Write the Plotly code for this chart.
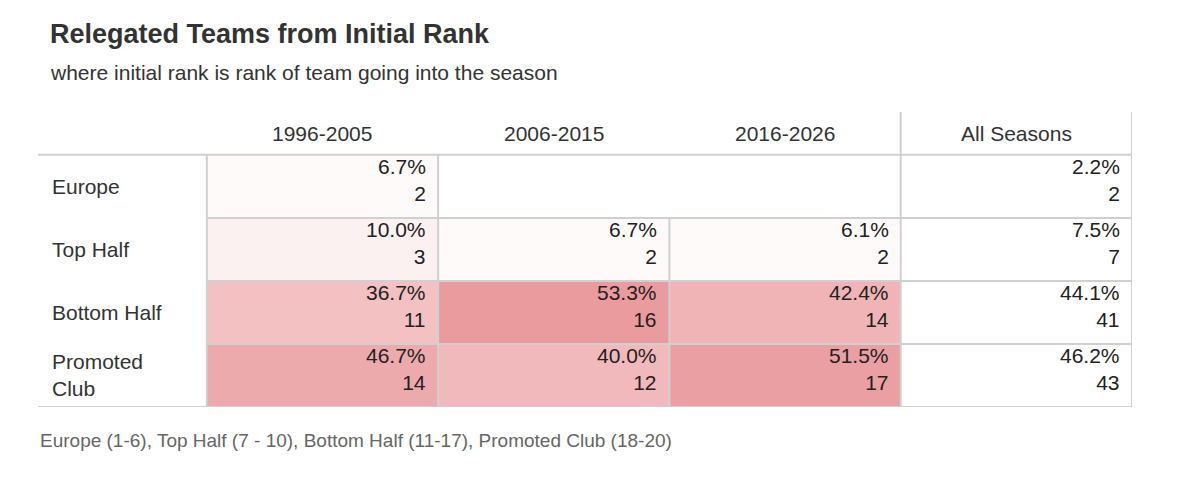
import plotly.graph_objects as go

columns = ["1996-2005", "2006-2015", "2016-2026", "All Seasons"]
rows = ["Europe", "Top Half", "Bottom Half", "Promoted<br>Club"]
pct = [[6.7, None, None, 2.2],
       [10.0, 6.7, 6.1, 7.5],
       [36.7, 53.3, 42.4, 44.1],
       [46.7, 40.0, 51.5, 46.2]]
counts = [[2, None, None, 2],
          [3, 2, 2, 7],
          [11, 16, 14, 41],
          [14, 12, 17, 43]]

FONT = "Liberation Sans, Arial, sans-serif"
LINE = "#d0d0d0"
nr, nc = len(rows), len(columns)
label_w = 0.73
head_h = 0.68

z = [[(pct[r][c] if c < nc - 1 else None) for c in range(nc)] for r in range(nr)]

fig = go.Figure(go.Heatmap(
    z=z, x=list(range(nc)), y=list(range(nr)),
    colorscale=[[0, "#ffffff"], [0.12, "#fefafa"], [0.18, "#fcf1f1"],
                [0.667, "#f3c1c2"], [1, "#e8979a"]],
    zmin=0, zmax=55, showscale=False, hoverinfo="skip"))

ann = []
for r in range(nr):
    ann.append(dict(x=-0.5 - label_w, y=r, text=rows[r], xanchor="left", yanchor="middle",
                    xshift=12, showarrow=False, align="left",
                    font=dict(size=21, color="#333", family=FONT)))
    for c in range(nc):
        if pct[r][c] is None:
            continue
        ann.append(dict(x=c + 0.5, y=r - 0.5, text=f"{pct[r][c]:.1f}%<br>{counts[r][c]}",
                        xanchor="right", yanchor="top", xshift=-10, yshift=2,
                        showarrow=False, align="right",
                        font=dict(size=21, color="#222", family=FONT)))
for c in range(nc):
    ann.append(dict(x=c, y=-0.5 - head_h / 2, text=columns[c], showarrow=False,
                    xanchor="center", yanchor="middle",
                    font=dict(size=21, color="#333", family=FONT)))

ann += [
    dict(xref="paper", yref="paper", x=0.009, y=1.0, yshift=78, text="<b>Relegated Teams from Initial Rank</b>",
         xanchor="left", yanchor="middle", showarrow=False, font=dict(size=27, color="#333", family=FONT)),
    dict(xref="paper", yref="paper", x=0.009, y=1.0, yshift=40, text="where initial rank is rank of team going into the season",
         xanchor="left", yanchor="middle", showarrow=False, font=dict(size=21, color="#333", family=FONT)),
    dict(xref="paper", yref="paper", x=0.0, y=0.0, yshift=-33, text="Europe (1-6), Top Half (7 - 10), Bottom Half (11-17), Promoted Club (18-20)",
         xanchor="left", yanchor="middle", showarrow=False, font=dict(size=19, color="#666", family=FONT)),
]

shapes = []
def ln(x0, y0, x1, y1):
    shapes.append(dict(type="line", x0=x0, y0=y0, x1=x1, y1=y1, line=dict(color=LINE, width=2)))

ln(-0.5 - label_w, -0.5, nc - 0.5, -0.5)
ln(-0.5 - label_w, nr - 0.5, nc - 0.5, nr - 0.5)
for r in range(1, nr):
    ln(-0.5, r - 0.5, nc - 0.5, r - 0.5)
for c in range(nc + 1):
    xb = c - 0.5
    top = -0.5 - head_h if c >= nc - 1 else -0.5
    if c == 2:
        ln(xb, 0.5, xb, nr - 0.5)
    else:
        ln(xb, top, xb, nr - 0.5)

fig.update_layout(
    width=1185, height=477, margin=dict(l=30, r=61, t=104, b=78),
    plot_bgcolor="white", paper_bgcolor="white",
    xaxis=dict(range=[-0.5 - label_w, nc - 0.5], visible=False, fixedrange=True),
    yaxis=dict(range=[nr - 0.5, -0.5 - head_h], visible=False, fixedrange=True),
    annotations=ann, shapes=shapes, showlegend=False)

fig.write_html("out.html")
